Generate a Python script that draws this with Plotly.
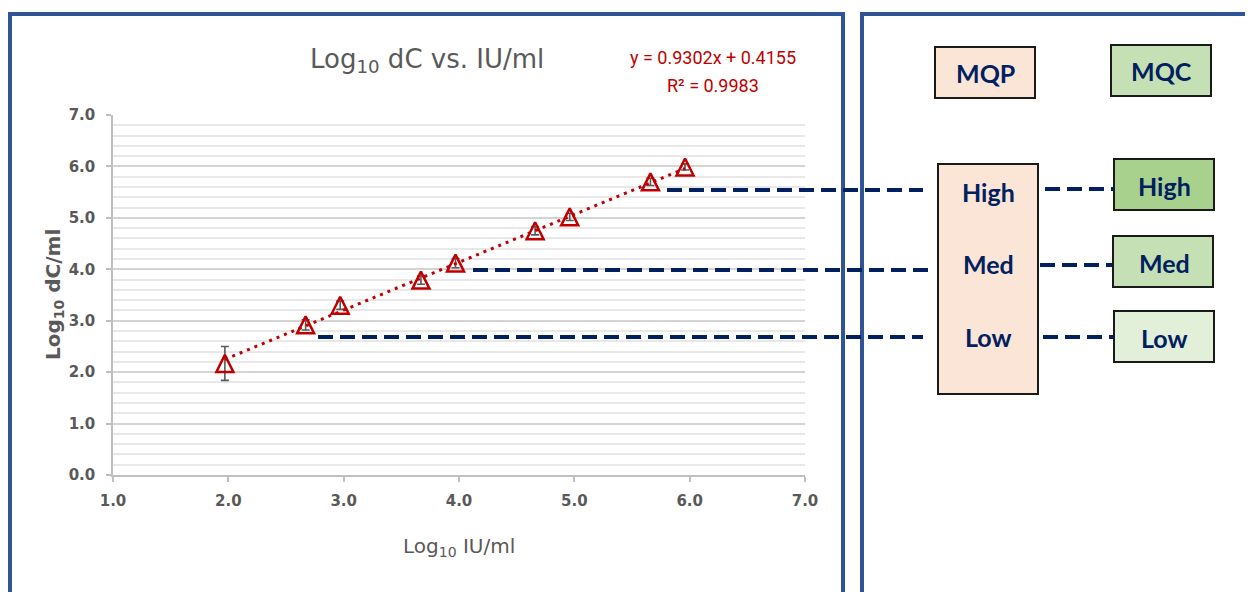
import plotly.graph_objects as go

# ---------------- data ----------------
log_iu = [1.97, 2.67, 2.97, 3.67, 3.97, 4.66, 4.96, 5.66, 5.96]
log_dc = [2.17, 2.92, 3.30, 3.79, 4.12, 4.75, 5.02, 5.70, 5.99]
err_dc = [0.33, 0.10, 0.08, 0.08, 0.09, 0.08, 0.07, 0.07, 0.06]
slope = 0.9302
intercept = 0.4155
r_squared = 0.9983
x_ticks = [1, 2, 3, 4, 5, 6, 7]
y_ticks = [0, 1, 2, 3, 4, 5, 6, 7]
mqp_levels = ["High", "Med", "Low"]
mqc_levels = ["High", "Med", "Low"]
headers = ["MQP", "MQC"]

# page body has an 8px margin: the figure starts at (8, 8)
OFF = 8
W, H = 1253 - OFF, 592 - OFF
def X(px):
    return (px - OFF) / W
def Y(py):
    return 1 - (py - OFF) / H

NAVY = "#002060"
GRAY = "#595959"
RED = "#C00000"
BLUE = "#2F5597"
FONT = "DejaVu Sans"

MS = 17  # marker size (px)
ppu = (475 - 115) / 7.0
d = (MS / 2) / ppu

fig = go.Figure()

# error bars
fig.add_trace(go.Scatter(
    x=log_iu, y=log_dc, mode="markers",
    marker=dict(size=2, opacity=0),
    error_y=dict(type="data", array=err_dc, visible=True, color=GRAY, thickness=1.6, width=4),
    showlegend=False, hoverinfo="skip"))

# trend line
x_fit = [min(log_iu), max(log_iu)]
y_fit = [slope * v + intercept for v in x_fit]
fig.add_trace(go.Scatter(
    x=x_fit, y=y_fit, mode="lines",
    line=dict(color=RED, width=3, dash="3px,5px"),
    showlegend=False, hoverinfo="skip"))

# triangle markers
fig.add_trace(go.Scatter(
    x=log_iu, y=log_dc, mode="markers", yaxis="y2",
    marker=dict(symbol="arrow-up-open", size=MS, color=RED, line=dict(color=RED, width=2.5)),
    showlegend=False))

shapes = []
# panel frames
shapes.append(dict(type="rect", xref="paper", yref="paper", x0=X(10), x1=X(843), y0=Y(14), y1=Y(640),
                   line=dict(color=BLUE, width=4), layer="above"))
shapes.append(dict(type="rect", xref="paper", yref="paper", x0=X(862), x1=X(1300), y0=Y(14), y1=Y(640),
                   line=dict(color=BLUE, width=4), layer="above"))

def box(x0, x1, y0, y1, fill):
    shapes.append(dict(type="rect", xref="paper", yref="paper", x0=X(x0), x1=X(x1), y0=Y(y0), y1=Y(y1),
                       fillcolor=fill, line=dict(color="#1a1a1a", width=2), layer="above"))

box(935, 1035, 47, 98, "#FBE5D6")
box(1111, 1211, 45, 96, "#C5E0B4")
box(938, 1038, 164, 394, "#FBE5D6")
box(1114, 1214, 159, 210, "#A9D18E")
box(1113, 1213, 236, 287, "#C5E0B4")
box(1114, 1214, 311, 362, "#E2F0D9")

def dash(x0, x1, y):
    shapes.append(dict(type="line", xref="paper", yref="paper", x0=X(x0), x1=X(x1), y0=Y(y), y1=Y(y),
                       line=dict(color=NAVY, width=4, dash="15px,7px"), layer="above"))

dash(667, 923, 190)
dash(473, 928, 270)
dash(318, 923, 337)
dash(1045, 1114, 189)
dash(1040, 1112, 265)
dash(1043, 1113, 337)

ann = []
def text(px, py, s, size, color, family, bold=False, angle=0):
    ann.append(dict(x=X(px), y=Y(py), xref="paper", yref="paper", text=s, showarrow=False,
                    xanchor="center", yanchor="middle", textangle=angle,
                    font=dict(size=size, color=color, family=family, weight="bold" if bold else "normal")))

text(427, 60, "Log<sub>10</sub> dC vs. IU/ml", 26, GRAY, FONT)
text(713, 57, f"y = {slope}x + {intercept}", 18, RED, "Roboto")
text(713, 85, f"R² = {r_squared}", 18, RED, "Roboto")
text(459, 547, "Log<sub>10</sub> IU/ml", 20, GRAY, FONT)
text(54, 295, "Log<sub>10</sub> dC/ml", 20, GRAY, FONT, bold=True, angle=-90)

text(985, 73, headers[0], 25, NAVY, "Lato", bold=True)
text(1161, 71, headers[1], 25, NAVY, "Lato", bold=True)
for lvl, py in zip(mqp_levels, [192, 264, 337]):
    text(988, py, lvl, 25, NAVY, "Lato", bold=True)
for lvl, py in zip(mqc_levels, [186, 263, 338]):
    text(1164, py, lvl, 25, NAVY, "Lato", bold=True)

fig.update_layout(
    width=W, height=H, margin=dict(l=0, r=0, t=0, b=0),
    paper_bgcolor="white", plot_bgcolor="white",
    shapes=shapes, annotations=ann, showlegend=False,
    xaxis=dict(domain=[X(113), X(805)], range=[1, 7], tickvals=x_ticks, tickformat=".1f",
               showgrid=False, zeroline=False, showline=True, linecolor="#BFBFBF", linewidth=1.5,
               ticks="outside", ticklen=5, tickcolor="#BFBFBF", tickwidth=1.5,
               tickfont=dict(size=15, color=GRAY, family=FONT, weight="bold"), ticklabelstandoff=6,
               automargin=False),
    yaxis=dict(domain=[Y(475), Y(115)], range=[0, 7], tickvals=y_ticks, tickformat=".1f",
               showgrid=True, gridcolor="#D4D4D4", gridwidth=2, zeroline=False,
               showline=True, linecolor="#BFBFBF", linewidth=1.5,
               ticks="outside", ticklen=5, tickcolor="#BFBFBF", tickwidth=1.5,
               minor=dict(dtick=0.2, showgrid=True, gridcolor="#E8E8E8", gridwidth=1.5),
               tickfont=dict(size=15, color=GRAY, family=FONT, weight="bold"), ticklabelstandoff=8,
               automargin=False),
    yaxis2=dict(domain=[Y(475), Y(115)], range=[-d, 7 - d], overlaying="y", visible=False),
)

fig.write_html("out.html")
